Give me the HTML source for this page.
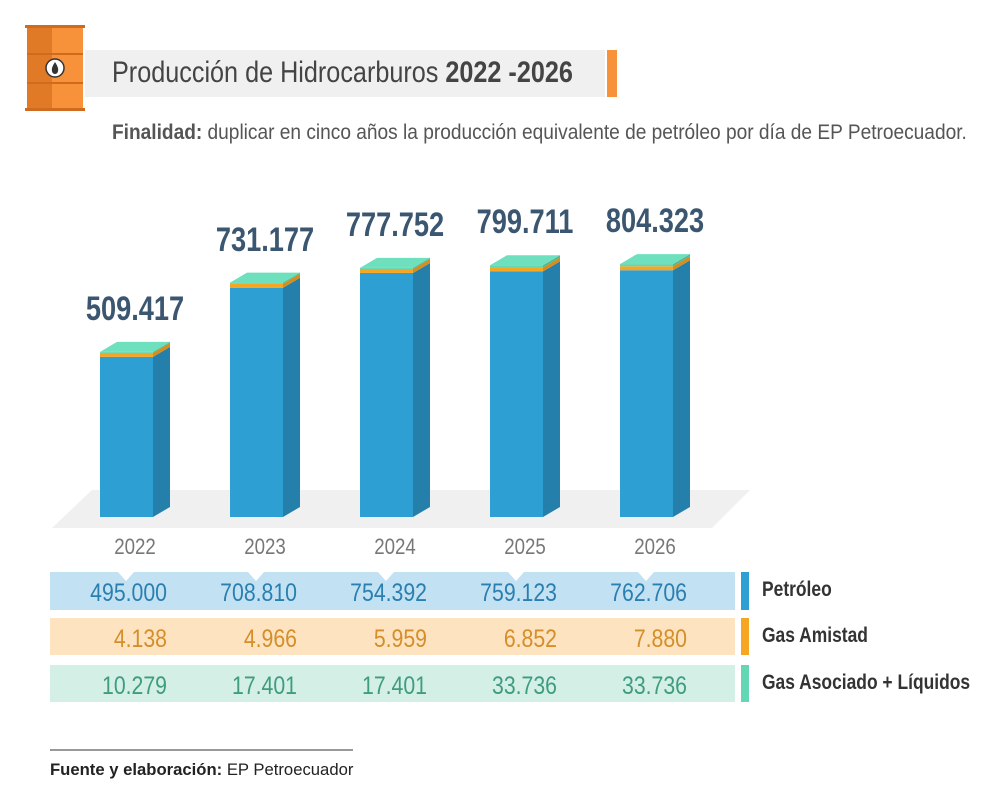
<!DOCTYPE html>
<html><head><meta charset="utf-8"><style>
body{margin:0;width:1000px;height:790px;background:#fff;overflow:hidden;font-family:"Liberation Sans",sans-serif;}
.c{position:absolute;white-space:nowrap;transform-origin:left top;}
</style></head><body>
<svg width="1000" height="790" style="position:absolute;left:0;top:0">
<g>
<rect x="27" y="26" width="56" height="84" fill="#f7923a"/>
<rect x="27" y="26" width="25" height="84" fill="#e07a27"/>
<rect x="25" y="25" width="60" height="3" fill="#d06a1f"/>
<rect x="25" y="108" width="60" height="3" fill="#d06a1f"/>
<rect x="27" y="53" width="56" height="2" fill="#d06a1f"/>
<rect x="27" y="82" width="56" height="2" fill="#d06a1f"/>
<circle cx="55" cy="68" r="9" fill="#fff" stroke="#333" stroke-width="1.5"/>
<path d="M55 62 Q59 68 58 71 A3 3 0 0 1 52 71 Q51 68 55 62Z" fill="#333"/>
</g>
<rect x="85" y="50" width="520" height="47" fill="#f0f0f0"/>
<rect x="607" y="50" width="10" height="47" fill="#f7923a"/>
<polygon points="92,490 750,490 712,528 52,528" fill="#f0f0f0"/>
<g id="bars"></g>
<g id="table"></g>
<line x1="50" y1="750" x2="353" y2="750" stroke="#333" stroke-width="1"/>
</svg>
<div class="c" style="left:112px;top:56px;font-size:30px;color:#444;transform:scaleX(0.84)">Producción de Hidrocarburos <span style="font-weight:700">2022 -2026</span></div>
<div class="c" style="left:112px;top:121px;font-size:21px;color:#555;transform:scaleX(0.91)"><span style="font-weight:700">Finalidad:</span> duplicar en cinco años la producción equivalente de petróleo por día de EP Petroecuador.</div>
<div class="c" style="left:50px;top:760px;font-size:17px;color:#222;transform:scaleX(0.98)"><span style="font-weight:700">Fuente y elaboración:</span> EP Petroecuador</div>
<div id="labels"></div>
<script>
const years=["2022","2023","2024","2025","2026"];
const totals=["509.417","731.177","777.752","799.711","804.323"];
const petroleo=[495000,708810,754392,759123,762706];
const gasAmistad=[4138,4966,5959,6852,7880];
const gasAsociado=[10279,17401,17401,33736,33736];
const petLbl=["495.000","708.810","754.392","759.123","762.706"];
const amiLbl=["4.138","4.966","5.959","6.852","7.880"];
const asoLbl=["10.279","17.401","17.401","33.736","33.736"];
const NS="http://www.w3.org/2000/svg";
const x0=100,step=130,bw=53,dx=17,dy=10,base=517,k=0.3235/1000;
const y=v=>base-v*k;
const bars=document.getElementById('bars'),labels=document.getElementById('labels'),table=document.getElementById('table');
function mk(tag,at,p){const e=document.createElementNS(NS,tag);for(const a in at)e.setAttribute(a,at[a]);p.appendChild(e);return e;}
function div(txt,st,p){const d=document.createElement('div');d.className='c';d.textContent=txt;d.style.cssText=st;p.appendChild(d);return d;}
years.forEach((yr,i)=>{
  const x=x0+i*step;
  const g=mk('g',{},bars);
  
  
  const yb=y(petroleo[i]);
  const ya=yb-Math.max(4,gasAmistad[i]*k);
  const yg=ya-Math.max(1,gasAsociado[i]*k*0.2);
  mk('rect',{x:x,y:yb,width:bw,height:base-yb,fill:'#2e9fd3'},g);
  mk('polygon',{points:`${x+bw},${yb} ${x+bw+dx},${yb-dy} ${x+bw+dx},${base-dy} ${x+bw},${base}`,fill:'#2480ab'},g);
  mk('rect',{x:x,y:ya,width:bw,height:yb-ya,fill:'#f5a623'},g);
  mk('polygon',{points:`${x+bw},${ya} ${x+bw+dx},${ya-dy} ${x+bw+dx},${yb-dy} ${x+bw},${yb}`,fill:'#d88d1a'},g);
  mk('rect',{x:x,y:yg,width:bw,height:ya-yg,fill:'#63d6b4'},g);
  mk('polygon',{points:`${x+bw},${yg} ${x+bw+dx},${yg-dy} ${x+bw+dx},${ya-dy} ${x+bw},${ya}`,fill:'#4cb896'},g);
  mk('polygon',{points:`${x},${yg} ${x+dx},${yg-dy} ${x+bw+dx},${yg-dy} ${x+bw},${yg}`,fill:'#6ee0be'},g);
  const t=div(totals[i],`left:${x+35-80}px;top:${yg-dy-52}px;width:160px;text-align:center;font-size:34px;font-weight:bold;color:#3b5670;transform:scaleX(0.8);transform-origin:center top`,labels);
  
  
  const yl=div(yr,`left:${x+35-50}px;top:534px;width:100px;text-align:center;font-size:22px;color:#777;transform:scaleX(0.85);transform-origin:center top`,labels);
  
  
});
const rows=[{n:'petroleo',y:572,h:38,bg:'#c2e2f3',ac:'#2e9fd3',tc:'#2a7fb0',lbl:petLbl,name:'Petróleo'},
{n:'gas-amistad',y:618,h:37,bg:'#fde3c0',ac:'#f5a623',tc:'#d48e2a',lbl:amiLbl,name:'Gas Amistad'},
{n:'gas-asociado',y:665,h:37,bg:'#d3efe6',ac:'#63d6b4',tc:'#3f9c7f',lbl:asoLbl,name:'Gas Asociado + Líquidos'}];
rows.forEach(r=>{
  const rr=mk('rect',{x:50,y:r.y,width:685,height:r.h,fill:r.bg},table);
  
  
  mk('rect',{x:741,y:r.y,width:8,height:r.h,fill:r.ac},table);
  const l=div(r.name,`left:762px;top:${r.y+6}px;font-size:21px;font-weight:bold;color:#333;transform:scaleX(0.83)`,labels);
  
  
  r.lbl.forEach((v,i)=>{
    const d=div(v,`left:${x0+i*step+67-200}px;top:${r.y+7}px;width:200px;text-align:right;font-size:25px;color:${r.tc};transform:scaleX(0.85);transform-origin:right top`,labels);
    
    
  });
});
years.forEach((yr,i)=>{const cx=x0+i*step+26;mk('polygon',{points:`${cx-8},572 ${cx+8},572 ${cx},581`,fill:'#fff'},table);});
</script>
</body></html>
